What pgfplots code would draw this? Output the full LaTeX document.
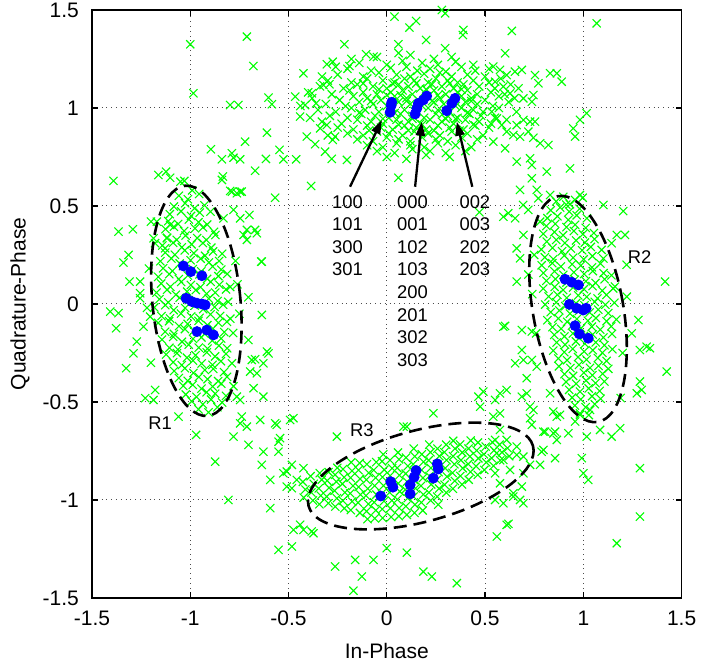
\documentclass[border=0pt]{standalone}
\usepackage{fontspec}
\setmainfont{Liberation Sans}
\usepackage{pgfplots}
\pgfplotsset{compat=1.18}
\usetikzlibrary{arrows.meta}
\definecolor{ptgreen}{RGB}{0,255,0}
\definecolor{ptblue}{RGB}{0,0,255}
\pgfplotsset{rx/.style={only marks, mark=x, mark size=2.9pt, color=ptgreen, mark options={line width=0.55pt}}}

\begin{document}
\begin{tikzpicture}
\begin{axis}[
  name=ax,
  scale only axis,
  width=294.85pt, height=294pt,
  xmin=-1.5, xmax=1.5, ymin=-1.5, ymax=1.5,
  xtick={-1.5,-1,-0.5,0,0.5,1,1.5},
  xticklabels={-1.5,-1,-0.5,0,0.5,1,1.5},
  ytick={-1.5,-1,-0.5,0,0.5,1,1.5},
  yticklabels={-1.5,-1,-0.5,0,0.5,1,1.5},
  tick align=inside,
  major tick length=3pt,
  tick style={black, line width=0.6pt},
  grid=major,
  major grid style={black!70, dotted, line width=0.5pt},
  axis line style={black, line width=0.75pt},
  ticklabel style={font=\fontsize{10.5}{12}\selectfont},
  xticklabel style={yshift=-3pt},
  yticklabel style={xshift=-3pt},
  xlabel={In-Phase}, ylabel={Quadrature-Phase},
  label style={font=\fontsize{10.5}{12}\selectfont},
  xlabel style={at={(axis description cs:0.5,-0.09)}, anchor=center},
  ylabel style={at={(axis description cs:-0.122,0.5)}, anchor=center},
  clip mode=individual,
]

% received symbols, upper cluster (around Q = 1)
\addplot[rx] coordinates {
(-0.05,1.26) (0.12,1.27) (0.24,1.25) (-0.18,1.25) (0.33,1.26) (0.06,1.28)
(-0.14,1.23) (0.00,1.22) (0.08,1.24) (0.18,1.23) (0.26,1.22) (0.35,1.235) (0.44,1.22) (-0.26,1.21)
(-0.20,1.20) (-0.08,1.19) (0.02,1.205) (0.10,1.21) (0.155,1.19) (0.22,1.20) (0.30,1.185) (0.38,1.21) (0.45,1.19) (0.52,1.20)
(-0.25,1.17) (-0.12,1.16) (-0.04,1.18) (0.05,1.17) (0.12,1.16) (0.19,1.175) (0.27,1.18) (0.33,1.16) (0.41,1.17) (0.50,1.16) (-0.33,1.16)
(-0.30,1.14) (-0.18,1.13) (-0.10,1.15) (-0.02,1.14) (0.04,1.13) (0.09,1.15) (0.14,1.14) (0.21,1.13) (0.25,1.15) (0.31,1.14) (0.36,1.13) (0.44,1.14) (0.52,1.13) (0.58,1.15)
(-0.34,1.11) (-0.22,1.10) (-0.15,1.12) (-0.07,1.11) (0.00,1.10) (0.06,1.12) (0.11,1.11) (0.17,1.10) (0.23,1.12) (0.28,1.11) (0.34,1.10) (0.39,1.12) (0.47,1.11) (0.55,1.10) (0.63,1.12)
(-0.40,1.08) (-0.28,1.07) (-0.19,1.09) (-0.12,1.08) (-0.05,1.07) (0.02,1.08) (0.08,1.09) (0.13,1.07) (0.19,1.08) (0.24,1.09) (0.30,1.07) (0.36,1.08) (0.41,1.09) (0.46,1.07) (0.53,1.08) (0.60,1.07)
(-0.38,1.05) (-0.24,1.04) (-0.17,1.06) (-0.10,1.05) (-0.03,1.04) (0.04,1.06) (0.10,1.05) (0.16,1.04) (0.21,1.06) (0.27,1.05) (0.33,1.04) (0.38,1.06) (0.43,1.05) (0.50,1.04) (0.57,1.06) (0.65,1.05)
(-0.31,1.02) (-0.21,1.01) (-0.14,1.03) (-0.07,1.02) (0.00,1.01) (0.06,1.03) (0.12,1.02) (0.18,1.01) (0.24,1.03) (0.29,1.02) (0.35,1.01) (0.40,1.03) (0.46,1.02) (0.54,1.01) (0.62,1.03) (-0.44,1.01)
(-0.35,0.99) (-0.26,0.98) (-0.18,1.00) (-0.11,0.99) (-0.04,0.98) (0.03,1.00) (0.09,0.99) (0.15,0.98) (0.21,1.00) (0.26,0.99) (0.32,0.98) (0.38,1.00) (0.44,0.99) (0.49,0.98) (0.57,1.00) (0.66,0.98)
(-0.29,0.96) (-0.20,0.95) (-0.13,0.97) (-0.06,0.96) (0.01,0.95) (0.07,0.97) (0.13,0.96) (0.19,0.95) (0.25,0.97) (0.31,0.96) (0.36,0.95) (0.42,0.97) (0.48,0.96) (0.55,0.95) (-0.39,0.95)
(-0.33,0.93) (-0.23,0.92) (-0.15,0.94) (-0.08,0.93) (-0.02,0.92) (0.05,0.94) (0.11,0.93) (0.17,0.92) (0.22,0.94) (0.28,0.93) (0.34,0.92) (0.40,0.94) (0.47,0.93) (0.53,0.92) (0.61,0.94)
(-0.25,0.90) (-0.17,0.89) (-0.10,0.91) (-0.03,0.90) (0.03,0.89) (0.09,0.91) (0.15,0.90) (0.20,0.89) (0.26,0.91) (0.32,0.90) (0.39,0.89) (0.45,0.91) (0.52,0.90)
(-0.20,0.87) (-0.12,0.86) (-0.05,0.88) (0.01,0.87) (0.08,0.86) (0.14,0.88) (0.21,0.87) (0.27,0.86) (0.33,0.88) (0.41,0.87) (0.49,0.86) (-0.30,0.86)
(-0.15,0.84) (-0.07,0.83) (0.00,0.85) (0.06,0.84) (0.12,0.83) (0.18,0.85) (0.25,0.84) (0.31,0.83) (0.38,0.85) (0.46,0.84)
(-0.10,0.81) (-0.02,0.80) (0.05,0.82) (0.12,0.81) (0.19,0.80) (0.26,0.82) (0.35,0.81) (0.43,0.80)
(-0.05,0.78) (0.04,0.77) (0.13,0.79) (0.22,0.78) (0.30,0.77) (0.40,0.78)
(0.00,0.75) (0.10,0.74) (0.20,0.76) (0.32,0.75)
(-0.12,1.125) (-0.04,1.095) (0.03,1.125) (0.07,1.065) (0.15,1.125) (0.20,1.095) (0.26,1.065) (0.32,1.125) (0.38,1.095) (0.43,1.035)
(-0.08,1.035) (0.00,1.065) (0.10,1.035) (0.14,0.985) (0.23,1.035) (0.29,0.975) (0.35,0.945) (0.41,0.975) (-0.14,0.975) (-0.02,0.945)
(0.06,0.915) (0.13,0.945) (0.18,0.915) (0.24,0.885) (0.30,0.945) (0.44,0.915) (-0.09,0.885) (0.04,0.975) (0.11,0.885) (0.37,0.885)
};

% left cluster (R1)
\addplot[rx] coordinates {
(-1.058,0.552) (-1.012,0.534) (-0.955,0.561) (-0.99,0.58)
(-1.083,0.497) (-1.026,0.514) (-0.978,0.488) (-0.928,0.503)
(-1.104,0.458) (-1.047,0.473) (-0.996,0.449) (-0.952,0.466) (-0.897,0.471)
(-1.112,0.423) (-1.062,0.408) (-1.007,0.431) (-0.958,0.417) (-0.914,0.405)
(-1.126,0.382) (-1.083,0.394) (-1.031,0.372) (-0.976,0.386) (-0.935,0.391) (-0.879,0.368)
(-1.118,0.338) (-1.069,0.327) (-1.024,0.349) (-0.965,0.336) (-0.918,0.326) (-0.872,0.352)
(-1.142,0.298) (-1.087,0.312) (-1.043,0.289) (-0.993,0.304) (-0.936,0.311) (-0.893,0.287)
(-1.127,0.262) (-1.078,0.251) (-1.028,0.273) (-0.982,0.259) (-0.925,0.246) (-0.884,0.268) (-0.838,0.256)
(-1.152,0.218) (-1.096,0.232) (-1.054,0.207) (-0.998,0.223) (-0.947,0.231) (-0.905,0.212) (-0.853,0.219)
(-1.138,0.182) (-1.091,0.168) (-1.037,0.193) (-0.987,0.178) (-0.944,0.166) (-0.886,0.191) (-0.842,0.175)
(-1.163,0.138) (-1.107,0.152) (-1.058,0.127) (-1.012,0.145) (-0.953,0.151) (-0.914,0.128) (-0.857,0.142) (-0.812,0.153)
(-1.148,0.104) (-1.101,0.088) (-1.046,0.112) (-0.997,0.097) (-0.948,0.086) (-0.896,0.113) (-0.852,0.098) (-0.797,0.087)
(-1.172,0.058) (-1.118,0.072) (-1.073,0.047) (-1.016,0.063) (-0.972,0.071) (-0.917,0.052) (-0.873,0.058) (-0.818,0.074)
(-1.157,0.024) (-1.112,0.008) (-1.054,0.032) (-1.008,0.019) (-0.963,0.006) (-0.906,0.027) (-0.861,0.015) (-0.807,0.011)
(-1.183,-0.018) (-1.127,-0.006) (-1.084,-0.032) (-1.026,-0.021) (-0.977,-0.008) (-0.934,-0.027) (-0.876,-0.016) (-0.833,-0.004)
(-1.146,-0.062) (-1.103,-0.074) (-1.047,-0.049) (-0.996,-0.064) (-0.953,-0.071) (-0.897,-0.053) (-0.848,-0.061) (-0.796,-0.075)
(-1.163,-0.097) (-1.108,-0.088) (-1.057,-0.113) (-1.013,-0.102) (-0.958,-0.086) (-0.913,-0.108) (-0.857,-0.096) (-0.814,-0.091)
(-1.128,-0.142) (-1.083,-0.153) (-1.027,-0.128) (-0.982,-0.137) (-0.927,-0.152) (-0.884,-0.126) (-0.827,-0.144) (-0.782,-0.148)
(-1.144,-0.182) (-1.087,-0.168) (-1.042,-0.193) (-0.986,-0.178) (-0.943,-0.171) (-0.888,-0.187) (-0.843,-0.176)
(-1.106,-0.224) (-1.063,-0.232) (-1.008,-0.208) (-0.957,-0.223) (-0.912,-0.228) (-0.854,-0.213) (-0.812,-0.226)
(-1.123,-0.258) (-1.068,-0.251) (-1.017,-0.274) (-0.973,-0.262) (-0.916,-0.247) (-0.874,-0.268) (-0.818,-0.255)
(-1.087,-0.297) (-1.043,-0.312) (-0.986,-0.289) (-0.942,-0.304) (-0.887,-0.311) (-0.844,-0.292) (-0.788,-0.303)
(-1.082,-0.342) (-1.027,-0.328) (-0.984,-0.352) (-0.926,-0.337) (-0.883,-0.331) (-0.828,-0.348)
(-1.058,-0.378) (-1.013,-0.392) (-0.956,-0.373) (-0.912,-0.384) (-0.858,-0.394) (-0.813,-0.372)
(-1.036,-0.418) (-0.987,-0.413) (-0.943,-0.432) (-0.886,-0.421) (-0.842,-0.407)
(-1.023,-0.462) (-0.968,-0.474) (-0.917,-0.451) (-0.873,-0.458) (-0.818,-0.469)
(-0.993,-0.497) (-0.936,-0.512) (-0.894,-0.488) (-0.838,-0.503)
(-0.958,-0.538) (-0.907,-0.553) (-0.862,-0.527)
(-1.238,-0.116) (-1.204,-0.065) (-1.255,0.055) (-1.179,0.310) (-1.128,0.284)
(-0.704,-0.184) (-0.687,-0.286) (-0.661,-0.354) (-0.610,-0.243) (-0.628,-0.303)
(-0.712,0.378) (-0.670,0.378) (-0.636,0.216) (-0.712,0.327) (-0.746,0.573) (-0.788,0.573)
(-1.21,0.18) (-1.22,-0.02) (-1.20,-0.30) (-0.76,0.10) (-0.75,-0.05) (-0.77,0.22) (-1.20,0.42) (-0.78,-0.42)
(-0.780,0.480) (-0.746,0.437) (-0.831,0.437) (-1.170,0.420) (-1.102,0.403) (-1.187,0.335) (-1.119,0.335) (-1.05,0.624)
};

% right cluster (R2)
\addplot[rx] coordinates {
(0.862,0.523) (0.913,0.507) (0.958,0.531)
(0.834,0.478) (0.882,0.492) (0.928,0.471) (0.981,0.486)
(0.817,0.438) (0.868,0.447) (0.923,0.429) (0.966,0.452) (1.018,0.437)
(0.812,0.398) (0.857,0.409) (0.914,0.392) (0.958,0.404) (1.012,0.388)
(0.796,0.358) (0.853,0.367) (0.897,0.351) (0.952,0.372) (0.998,0.356) (1.054,0.362)
(0.814,0.318) (0.862,0.327) (0.906,0.311) (0.963,0.324) (1.008,0.313) (1.057,0.331)
(0.786,0.278) (0.843,0.286) (0.892,0.269) (0.937,0.283) (0.994,0.274) (1.038,0.291) (1.093,0.276)
(0.804,0.238) (0.847,0.229) (0.903,0.247) (0.948,0.236) (1.002,0.228) (1.046,0.244) (1.102,0.232)
(0.788,0.197) (0.842,0.208) (0.886,0.191) (0.943,0.203) (0.987,0.196) (1.044,0.187) (1.087,0.206)
(0.797,0.158) (0.853,0.166) (0.898,0.149) (0.952,0.162) (1.004,0.153) (1.048,0.168) (1.103,0.157) (1.143,0.146)
(0.812,0.118) (0.858,0.127) (0.914,0.109) (0.957,0.124) (1.013,0.116) (1.062,0.107) (1.108,0.126)
(0.796,0.078) (0.854,0.087) (0.897,0.071) (0.948,0.084) (1.003,0.076) (1.047,0.091) (1.096,0.068) (1.152,0.079)
(0.823,0.038) (0.868,0.047) (0.916,0.031) (0.974,0.044) (1.017,0.036) (1.072,0.028) (1.118,0.046)
(0.806,-0.003) (0.862,0.008) (0.908,-0.011) (0.963,0.004) (1.006,-0.007) (1.058,0.011) (1.112,-0.004) (1.158,0.006)
(0.834,-0.042) (0.878,-0.033) (0.932,-0.049) (0.977,-0.036) (1.032,-0.044) (1.076,-0.029) (1.127,-0.047)
(0.817,-0.083) (0.873,-0.074) (0.918,-0.091) (0.967,-0.077) (1.023,-0.086) (1.064,-0.072) (1.118,-0.088) (1.168,-0.079)
(0.843,-0.118) (0.887,-0.127) (0.942,-0.111) (0.988,-0.124) (1.043,-0.116) (1.086,-0.131) (1.142,-0.114)
(0.852,-0.158) (0.904,-0.166) (0.947,-0.151) (1.003,-0.163) (1.047,-0.156) (1.102,-0.171) (1.146,-0.153)
(0.864,-0.197) (0.907,-0.208) (0.962,-0.191) (1.008,-0.203) (1.063,-0.196) (1.107,-0.211)
(0.847,-0.238) (0.903,-0.246) (0.946,-0.229) (1.004,-0.243) (1.048,-0.236) (1.097,-0.249) (1.148,-0.231)
(0.873,-0.278) (0.917,-0.287) (0.973,-0.271) (1.016,-0.284) (1.074,-0.276) (1.118,-0.291)
(0.876,-0.318) (0.934,-0.327) (0.978,-0.311) (1.034,-0.326) (1.077,-0.316) (1.127,-0.331)
(0.904,-0.358) (0.948,-0.367) (1.003,-0.351) (1.046,-0.364) (1.098,-0.356)
(0.912,-0.398) (0.963,-0.407) (1.014,-0.391) (1.062,-0.404) (1.107,-0.396)
(0.928,-0.438) (0.983,-0.447) (1.027,-0.431) (1.083,-0.444)
(0.943,-0.478) (0.987,-0.487) (1.044,-0.471) (1.088,-0.484)
(0.957,-0.518) (1.012,-0.527) (1.058,-0.511)
(0.983,-0.558) (1.028,-0.567)
(0.678,0.582) (0.763,0.582) (0.618,0.463) (0.694,0.505) (0.831,0.556) (0.983,0.556)
(0.593,-0.116) (0.687,-0.235) (0.653,-0.303) (0.763,-0.320) (0.610,-0.439) (0.712,-0.456) (0.831,-0.456) (0.746,-0.541)
(1.288,-0.396) (1.322,-0.218) (1.280,-0.082) (1.246,-0.150) (1.221,0.037) (1.161,0.088)
(0.75,0.25) (0.74,0.05) (0.76,-0.15) (0.72,0.15) (1.20,-0.25) (1.22,0.20) (0.78,0.42) (1.19,-0.48)
};

% lower cluster (R3)
\addplot[rx] coordinates {
(-0.423,-0.988) (-0.414,-0.947) (-0.427,-0.908)
(-0.376,-1.003) (-0.384,-0.962) (-0.372,-0.918) (-0.388,-0.879)
(-0.343,-1.022) (-0.336,-0.978) (-0.346,-0.941) (-0.331,-0.897) (-0.341,-0.863)
(-0.297,-1.017) (-0.306,-0.983) (-0.294,-0.938) (-0.303,-0.902) (-0.296,-0.858)
(-0.262,-1.034) (-0.254,-0.991) (-0.266,-0.953) (-0.257,-0.907) (-0.263,-0.872) (-0.252,-0.836)
(-0.216,-1.043) (-0.224,-1.004) (-0.213,-0.962) (-0.226,-0.918) (-0.217,-0.884) (-0.223,-0.843)
(-0.183,-1.052) (-0.176,-1.008) (-0.186,-0.967) (-0.172,-0.928) (-0.184,-0.887) (-0.177,-0.852) (-0.181,-0.808)
(-0.137,-1.066) (-0.146,-1.014) (-0.134,-0.973) (-0.143,-0.934) (-0.136,-0.893) (-0.144,-0.848) (-0.138,-0.812)
(-0.103,-1.058) (-0.094,-1.021) (-0.106,-0.978) (-0.097,-0.942) (-0.104,-0.897) (-0.092,-0.862) (-0.101,-0.818) (-0.098,-1.098)
(-0.056,-1.053) (-0.064,-1.012) (-0.053,-0.973) (-0.062,-0.928) (-0.057,-0.887) (-0.066,-0.848) (-0.054,-0.807) (-0.061,-1.094)
(-0.023,-1.047) (-0.014,-1.006) (-0.026,-0.968) (-0.017,-0.927) (-0.022,-0.884) (-0.013,-0.846) (-0.024,-0.803) (-0.018,-0.768) (-0.021,-1.092)
(0.018,-1.043) (0.026,-1.003) (0.014,-0.962) (0.023,-0.918) (0.017,-0.877) (0.027,-0.838) (0.016,-0.797) (0.022,-1.087)
(0.063,-1.041) (0.054,-0.998) (0.066,-0.957) (0.058,-0.916) (0.064,-0.874) (0.053,-0.837) (0.062,-0.793) (0.057,-0.758) (0.061,-1.083)
(0.097,-1.032) (0.106,-0.991) (0.094,-0.948) (0.103,-0.907) (0.096,-0.866) (0.107,-0.827) (0.098,-0.784) (0.102,-1.076)
(0.143,-1.024) (0.136,-0.983) (0.146,-0.941) (0.138,-0.898) (0.144,-0.857) (0.134,-0.818) (0.142,-0.778) (0.137,-0.738) (0.141,-1.066)
(0.176,-1.013) (0.186,-0.972) (0.174,-0.928) (0.184,-0.888) (0.177,-0.847) (0.187,-0.806) (0.178,-0.767) (0.183,-1.054)
(0.223,-1.003) (0.214,-0.962) (0.226,-0.921) (0.217,-0.878) (0.224,-0.837) (0.213,-0.798) (0.222,-0.757) (0.216,-0.718)
(0.257,-0.983) (0.266,-0.942) (0.254,-0.898) (0.263,-0.858) (0.256,-0.818) (0.267,-0.777) (0.258,-0.738) (0.262,-1.024)
(0.303,-0.963) (0.294,-0.922) (0.306,-0.881) (0.297,-0.838) (0.304,-0.797) (0.293,-0.757) (0.302,-0.718)
(0.336,-0.943) (0.346,-0.903) (0.334,-0.862) (0.344,-0.818) (0.337,-0.777) (0.347,-0.738) (0.338,-0.698)
(0.383,-0.921) (0.374,-0.878) (0.386,-0.838) (0.377,-0.797) (0.384,-0.758) (0.373,-0.717)
(0.417,-0.897) (0.426,-0.857) (0.414,-0.817) (0.423,-0.778) (0.416,-0.738) (0.427,-0.697)
(0.463,-0.872) (0.454,-0.828) (0.466,-0.788) (0.457,-0.748) (0.464,-0.707)
(0.496,-0.847) (0.506,-0.808) (0.494,-0.767) (0.503,-0.728)
(0.543,-0.826) (0.534,-0.787) (0.546,-0.747) (0.537,-0.706)
(0.577,-0.798) (0.586,-0.757) (0.574,-0.718)
(0.623,-0.777) (0.614,-0.736)
(0.542,-0.575) (0.576,-0.643) (0.551,-0.694) (0.610,-0.694) (0.559,-0.762) (0.661,-0.728) (0.695,-0.779) (0.593,-0.796)
(0.627,-0.847) (0.551,-0.864) (0.695,-0.864) (0.687,-0.932) (0.576,-0.915) (0.644,-0.983) (0.678,-1.000)
};

% scattered symbols between the clusters
\addplot[rx] coordinates {
(-0.712,1.364) (-1.000,1.325) (-0.679,1.214) (-0.984,1.075) (-0.602,1.053) (-0.585,1.019) (-0.797,1.015) (-0.755,1.015)
(-0.610,0.874) (-0.721,0.828) (-0.895,0.789) (-0.788,0.769) (-0.839,0.738) (-0.746,0.738) (-0.780,0.746) (-0.546,0.786)
(-0.526,0.738) (-0.615,0.740) (-0.670,0.680) (-1.391,0.628) (-1.162,0.658) (-1.123,0.675) (-1.102,0.644) (-1.030,0.628)
(-0.834,0.650) (-0.839,0.633) (-0.797,0.577) (-0.763,0.565) (-0.738,0.573) (-0.568,0.542) (-0.699,0.454) (-1.365,0.369)
(-1.292,0.381) (-0.729,0.352) (-0.661,0.361) (-1.314,0.250) (-1.340,0.211) (-1.309,0.114) (-1.255,0.114) (-0.639,0.216)
(-0.704,0.034) (-1.255,0.029)
(0.280,1.500) (0.297,1.483) (0.039,1.466) (0.149,1.444) (0.115,1.410) (0.390,1.398) (0.387,1.372) (0.200,1.347)
(-0.216,1.325) (0.059,1.325) (0.297,1.305) (-0.105,1.274) (-0.068,1.262) (-0.305,1.223) (-0.275,1.236) (-0.190,1.214)
(-0.424,1.177) (-0.322,1.117) (-0.292,1.121) (-0.466,1.058) (-0.381,1.075) (-0.416,1.015) (-0.360,1.024) (-0.441,0.956)
(-0.339,0.896) (-0.305,0.913) (-0.407,0.854) (-0.365,0.815) (-0.275,0.837) (-0.263,0.854) (-0.314,0.777) (-0.280,0.740)
(-0.461,0.738) (-0.203,0.735) (-0.385,0.602) (0.059,0.644) (0.471,0.468)
(1.068,1.432) (0.636,1.393) (0.602,1.279) (0.542,1.211) (0.576,1.194) (0.610,1.168) (0.652,1.185) (0.687,1.194)
(0.551,1.134) (0.593,1.109) (0.627,1.075) (0.670,1.100) (0.695,1.049) (0.738,1.032) (0.754,1.168) (0.831,1.177)
(0.865,1.177) (0.890,1.134) (0.771,1.126) (0.746,1.066) (0.534,0.981) (0.560,0.947) (0.585,0.913) (0.610,0.879)
(0.644,0.862) (0.678,0.854) (0.542,0.828) (0.602,0.794) (0.661,0.913) (0.695,0.939) (0.729,0.930) (0.754,0.930)
(0.780,0.820) (0.822,0.811) (0.720,0.879) (0.746,0.848) (1.017,0.973) (0.983,0.939) (0.949,0.896) (0.958,0.854)
(0.661,0.726) (0.729,0.743) (0.738,0.709) (0.814,0.675) (0.932,0.692) (0.738,0.641) (0.771,0.539)
(0.593,0.445) (0.653,0.437) (0.720,0.480) (0.695,0.352) (0.661,0.284) (0.898,0.547) (0.932,0.509) (0.997,0.542)
(1.102,0.505) (1.203,0.474) (1.170,0.352) (1.212,0.352) (1.144,0.310) (1.416,0.114) (0.678,0.233) (0.661,0.114)
(-1.407,-0.039) (-1.365,-0.047) (-1.377,-0.124) (-1.272,-0.192) (-1.289,-0.252) (-1.326,-0.328) (-1.187,-0.490) (-1.229,-0.481)
(-1.179,-0.439) (-1.060,-0.575) (-0.636,-0.056) (-0.602,-0.252) (-0.670,-0.282) (-0.695,-0.345) (-0.678,-0.430) (-0.628,-0.473)
(-0.970,-0.668) (-0.873,-0.805) (-0.806,-1.000) (-0.780,-0.677) (-0.738,-0.575) (-0.712,-0.626) (-0.746,-0.609) (-0.704,-0.719)
(-0.644,-0.592) (-0.628,-0.754) (-0.560,-0.617) (-0.636,-0.821) (-0.593,-0.898) (-0.551,-0.703) (-0.526,-0.864) (-0.551,-0.754)
(-0.509,-0.932) (-0.593,-1.042) (-0.551,-1.255) (-0.763,-0.473) (-0.746,-0.490)
(-0.475,-0.583) (-0.254,-0.677) (-0.483,-0.821) (-0.424,-0.838) (-0.458,-0.898) (-0.483,-0.940) (-0.475,-1.153) (-0.424,-1.153)
(-0.373,-1.170) (-0.483,-1.238) (-0.263,-1.340) (-0.161,-1.306) (-0.068,-1.306) (-0.127,-1.391) (-0.170,-1.463) (0.000,-1.246)
(0.102,-1.269) (0.186,-1.366) (0.229,-1.391) (0.356,-1.425) (0.237,-0.558) (0.102,-0.626) (0.466,-0.473) (0.491,-0.447)
(0.475,-0.524) (-0.568,-0.609) (-0.492,-0.592) (-0.543,-0.685) (-0.509,-0.855) (0.085,-0.626) (0.576,-0.558) (0.797,-0.652)
(0.848,-0.660) (0.797,-0.745) (0.856,-0.787) (0.661,-0.770) (0.729,-0.821) (0.610,-1.127) (0.560,-1.187) (-0.382,-1.161)
(-0.441,-1.127)
(0.602,-0.112) (0.687,-0.133) (0.738,-0.141) (0.695,-0.286) (0.738,-0.286) (0.712,-0.379) (1.339,-0.226) (1.288,-0.235)
(1.424,-0.345) (1.272,-0.456) (1.297,-0.439) (0.576,-0.456) (0.551,-0.490) (0.687,-0.473) (0.729,-0.524) (0.729,-0.583)
(0.738,-0.617) (0.805,-0.652) (0.856,-0.652) (0.865,-0.694) (0.924,-0.660) (0.788,-0.754) (0.780,-0.821) (0.847,-0.549)
(0.881,-0.566) (0.865,-0.575) (0.958,-0.600) (0.983,-0.566) (1.034,-0.541) (1.085,-0.643) (1.144,-0.677) (1.187,-0.634)
(1.017,-0.677) (0.992,-0.787) (1.000,-0.864) (1.025,-0.898) (1.288,-0.838) (1.288,-1.085) (1.170,-1.221) (0.619,-1.122)
(0.644,-0.966) (0.695,-1.017) (0.593,-1.017) (0.551,-1.000)
};

% decision points
\addplot[only marks, mark=*, mark size=2.5pt, color=ptblue, mark options={fill=ptblue, draw=ptblue}] coordinates {
(0.025,1.029) (0.022,1.012) (0.017,0.978)
(0.203,1.061) (0.186,1.041) (0.161,1.024) (0.153,0.998) (0.144,0.969)
(0.347,1.049) (0.331,1.024) (0.305,0.986)
(-1.035,0.194) (-0.997,0.165) (-0.941,0.144)
(-1.021,0.029) (-0.992,0.012) (-0.966,0.004) (-0.941,0.000) (-0.924,-0.005)
(-0.966,-0.141) (-0.916,-0.133) (-0.882,-0.158)
(0.907,0.126) (0.941,0.111) (0.975,0.097)
(0.929,-0.002) (0.966,-0.022) (1.000,-0.031) (1.014,-0.022)
(0.958,-0.111) (0.980,-0.153) (1.025,-0.175)
(-0.031,-0.980) (0.020,-0.907) (0.031,-0.935) (0.119,-0.969) (0.119,-0.923)
(0.139,-0.884) (0.149,-0.850) (0.237,-0.889) (0.257,-0.816) (0.262,-0.842)
};

% decision regions
\draw[black, line width=1.3pt, dash pattern=on 6.5pt off 3.5pt,
  rotate around={5.6:(axis cs:-0.969,0.016)}]
  (axis cs:-0.969,0.016) ellipse [x radius=0.224, y radius=0.59];
\draw[black, line width=1.3pt, dash pattern=on 6.5pt off 3.5pt,
  rotate around={10:(axis cs:0.973,-0.026)}]
  (axis cs:0.973,-0.026) ellipse [x radius=0.23, y radius=0.585];
\draw[black, line width=1.3pt, dash pattern=on 6.5pt off 3.5pt,
  rotate around={15:(axis cs:0.173,-0.878)}]
  (axis cs:0.173,-0.878) ellipse [x radius=0.591, y radius=0.233];

% pointers to the upper decision points
\draw[black, line width=1.15pt, -{Triangle[length=7pt,width=4.5pt]}]
  (axis cs:-0.187,0.598) -- (axis cs:-0.025,0.939);
\draw[black, line width=1.15pt, -{Triangle[length=7pt,width=4.5pt]}]
  (axis cs:0.144,0.598) -- (axis cs:0.178,0.930);
\draw[black, line width=1.15pt, -{Triangle[length=7pt,width=4.5pt]}]
  (axis cs:0.435,0.598) -- (axis cs:0.356,0.930);

% symbol labels
\begin{scope}[every node/.style={anchor=base west, inner sep=0pt, font=\fontsize{9.2}{11}\selectfont}]
\node at (axis cs:-0.280,0.489) {100};
\node at (axis cs:-0.280,0.374) {101};
\node at (axis cs:-0.280,0.258) {300};
\node at (axis cs:-0.280,0.143) {301};
\node at (axis cs:0.051,0.489) {000};
\node at (axis cs:0.051,0.374) {001};
\node at (axis cs:0.051,0.258) {102};
\node at (axis cs:0.051,0.143) {103};
\node at (axis cs:0.051,0.028) {200};
\node at (axis cs:0.051,-0.088) {201};
\node at (axis cs:0.051,-0.203) {302};
\node at (axis cs:0.051,-0.318) {303};
\node at (axis cs:0.368,0.489) {002};
\node at (axis cs:0.368,0.374) {003};
\node at (axis cs:0.368,0.258) {202};
\node at (axis cs:0.368,0.143) {203};
\end{scope}
\begin{scope}[every node/.style={anchor=center, inner sep=0pt, font=\fontsize{9.2}{11}\selectfont}]
\node at (axis cs:-1.153,-0.606) {R1};
\node at (axis cs:1.286,0.240) {R2};
\node at (axis cs:-0.127,-0.646) {R3};
\end{scope}
\end{axis}
\pgfresetboundingbox
\path[use as bounding box] ([shift={(-46pt,-34.5pt)}]ax.south west) rectangle ([shift={(11.2pt,5pt)}]ax.north east);
\end{tikzpicture}
\end{document}
